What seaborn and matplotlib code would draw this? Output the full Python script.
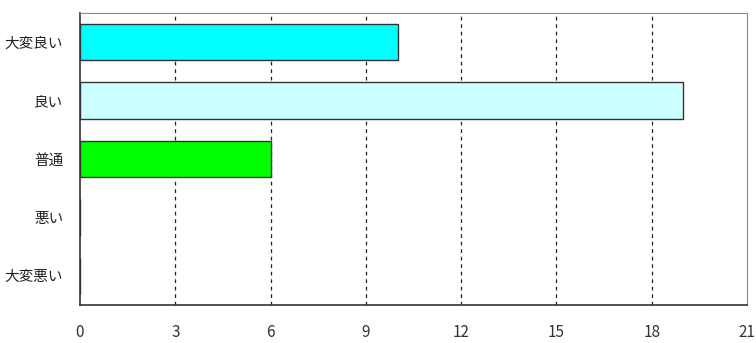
import matplotlib
matplotlib.use("Agg")
import matplotlib.pyplot as plt
import seaborn as sns
import pandas as pd

categories = ["大変良い", "良い", "普通", "悪い", "大変悪い"]
values = [10, 19, 6, 0, 0]
colors = ["#00FFFF", "#CCFFFF", "#00FF00", "#FFFFFF", "#FFFFFF"]
xticks = [0, 3, 6, 9, 12, 15, 18, 21]

sns.set_theme(style="white")
plt.rcParams['font.family'] = ['Noto Sans CJK JP', 'DejaVu Sans']

df = pd.DataFrame({"category": categories, "value": values})

fig = plt.figure(figsize=(7.56, 3.43), dpi=100)
ax = fig.add_axes([80/756, 1-305/343, (747-80)/756, (305-13)/343])

sns.barplot(data=df, y="category", x="value", hue="category",
            palette=dict(zip(categories, colors)), order=categories,
            width=0.62, edgecolor="#333333", linewidth=1.0, legend=False,
            saturation=1, ax=ax)

ax.set_xlim(0, 21)
ax.set_ylim(4.5, -0.5)
ax.set_xticks(xticks)
ax.set_xticklabels([str(t) for t in xticks], fontsize=11, color="#333333")
ax.set_xlabel("")
ax.set_ylabel("")
ax.tick_params(axis='x', length=0, pad=14)
ax.tick_params(axis='y', which='major', length=0, pad=12, labelsize=10.5, labelcolor="#222222")
ax.set_yticks([i + 0.5 for i in range(4)], minor=True)
ax.tick_params(axis='y', which='minor', direction='in', length=4, color="#555555", width=1)

for t in xticks[1:-1]:
    ax.axvline(t, color="#222222", linestyle=(0, (3, 3)), linewidth=0.9, zorder=0)

for side in ["left", "bottom"]:
    ax.spines[side].set_color("#333333")
    ax.spines[side].set_linewidth(1.2)
for side in ["top", "right"]:
    ax.spines[side].set_color("#888888")
    ax.spines[side].set_linewidth(0.8)

fig.savefig("out.png", dpi=100)
